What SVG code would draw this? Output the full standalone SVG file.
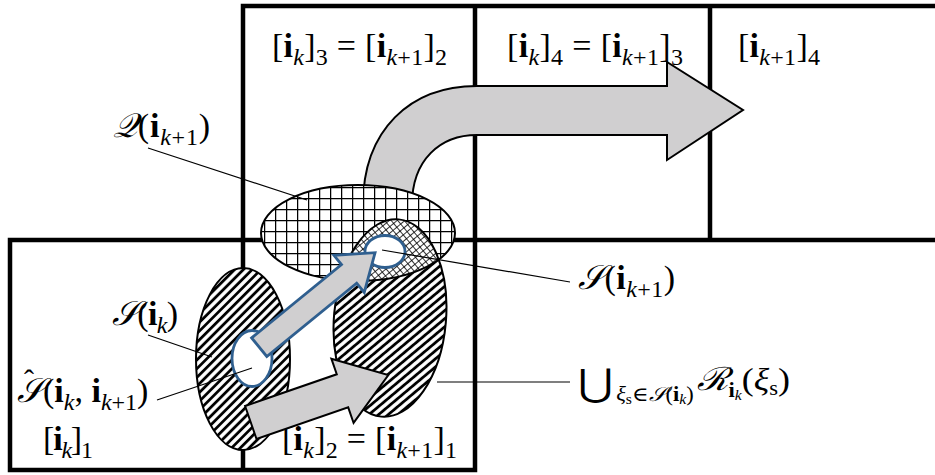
<svg xmlns="http://www.w3.org/2000/svg" width="935" height="475" viewBox="0 0 935 475">
<style>
.gl{stroke:#000;stroke-width:4.5;fill:none;stroke-linecap:square}
.ol{stroke:#000;stroke-width:2}
.gray{fill:#d0cfd0}
.blue{stroke:#2f5f8f;stroke-width:2.8}
.t{font-size:34px;fill:#000}
.b{font-weight:bold}
.i{font-style:italic}
.sb{font-size:24px}
.ss{font-size:14px}
.cal{font-style:italic}
.ld{stroke:#000;stroke-width:1.2;fill:none}
</style>
<defs>
<pattern id="diag" patternUnits="userSpaceOnUse" width="8" height="6.2" patternTransform="rotate(-45)">
<rect width="8" height="6.2" fill="#fff"/>
<line x1="0" y1="3.1" x2="8" y2="3.1" stroke="#000" stroke-width="2.8"/>
</pattern>
<pattern id="grid" patternUnits="userSpaceOnUse" width="11" height="11">
<rect width="11" height="11" fill="#fff"/>
<path d="M0 0.6H11M0.6 0V11" stroke="#000" stroke-width="1.3"/>
</pattern>
<pattern id="xh" patternUnits="userSpaceOnUse" width="5" height="5" patternTransform="rotate(45)">
<rect width="5" height="5" fill="#fff"/>
<path d="M0 0.5H5M0.5 0V5" stroke="#000" stroke-width="0.8"/>
</pattern>
<clipPath id="qclip"><ellipse cx="358" cy="233" rx="97" ry="48"/></clipPath>
</defs>
<rect width="935" height="475" fill="#fff"/>

<g id="grid-lines">
<path class="gl" d="M10 240H935M243 6H935M10 470H475M10 240V470M243 6V470M475 6V470M710 6V240"/>
</g>

<g id="cell-labels" font-family="'Liberation Serif', 'DejaVu Serif', serif">
<text class="t" x="272" y="57" textLength="175">[<tspan class="b">i</tspan><tspan class="i sb" dy="8">k</tspan><tspan dy="-8">]</tspan><tspan class="sb" dy="8">3</tspan><tspan dy="-8"> = [</tspan><tspan class="b">i</tspan><tspan class="i sb" dy="8">k</tspan><tspan class="sb">+1</tspan><tspan dy="-8">]</tspan><tspan class="sb" dy="8">2</tspan></text>
<text class="t" x="507" y="57" textLength="176">[<tspan class="b">i</tspan><tspan class="i sb" dy="8">k</tspan><tspan dy="-8">]</tspan><tspan class="sb" dy="8">4</tspan><tspan dy="-8"> = [</tspan><tspan class="b">i</tspan><tspan class="i sb" dy="8">k</tspan><tspan class="sb">+1</tspan><tspan dy="-8">]</tspan><tspan class="sb" dy="8">3</tspan></text>
<text class="t" x="738" y="57" textLength="82">[<tspan class="b">i</tspan><tspan class="i sb" dy="8">k</tspan><tspan class="sb">+1</tspan><tspan dy="-8">]</tspan><tspan class="sb" dy="8">4</tspan></text>
<text class="t" x="43" y="450" textLength="50">[<tspan class="b">i</tspan><tspan class="i sb" dy="8">k</tspan><tspan dy="-8">]</tspan><tspan class="sb" dy="8">1</tspan></text>
<text class="t" x="282" y="450" textLength="175">[<tspan class="b">i</tspan><tspan class="i sb" dy="8">k</tspan><tspan dy="-8">]</tspan><tspan class="sb" dy="8">2</tspan><tspan dy="-8"> = [</tspan><tspan class="b">i</tspan><tspan class="i sb" dy="8">k</tspan><tspan class="sb">+1</tspan><tspan dy="-8">]</tspan><tspan class="sb" dy="8">1</tspan></text>
</g>

<g id="transfer-arrow">
<path class="gray ol" stroke-width="2.5" d="M363 205C363 130 410 86 477 86H667V62L743 110L667 160V135H477C440 135 412 160 412 205Z"/>
</g>

<g id="Q-region">
<ellipse cx="358" cy="233" rx="97" ry="48" fill="url(#grid)"/>
</g>

<g id="R-union">
<ellipse cx="390" cy="318" rx="56" ry="99" transform="rotate(5 390 318)" fill="url(#diag)"/>
</g>

<g id="S-next">
<g clip-path="url(#qclip)">
<ellipse cx="390" cy="318" rx="56" ry="99" transform="rotate(5 390 318)" fill="url(#xh)"/>
</g>
<ellipse cx="358" cy="233" rx="97" ry="48" fill="none" class="ol"/>
<ellipse cx="390" cy="318" rx="56" ry="99" transform="rotate(5 390 318)" fill="none" class="ol"/>
</g>

<g id="S-k">
<ellipse cx="243" cy="359" rx="47" ry="91" fill="url(#diag)" class="ol"/>
</g>

<g id="S-hat">
<ellipse cx="252" cy="358.5" rx="20" ry="28" fill="#fff" class="blue"/>
</g>

<g id="S-next-inner">
<ellipse cx="385" cy="251.5" rx="20" ry="16" fill="#fff" class="blue"/>
</g>

<g id="arrows">
<path class="gray blue" stroke-width="2" transform="translate(259.2 347.2) rotate(-39.2)" d="M0 -12H116V-24L149.5 0L116 24V12H0Z"/>
<path class="gray ol" stroke-width="2" transform="translate(250.8 422.5) rotate(-19.06)" d="M0 -17.5H97V-34L145.5 0L97 34V17.5H0Z"/>
</g>

<g id="leaders">
<path class="ld" d="M148 148L307 200M382 250L570 282M148 335L212 357M157 400L252 368M437 382H570"/>
</g>

<g id="region-labels" font-family="'Liberation Serif', 'DejaVu Serif', serif">
<text class="t" x="113" y="137" textLength="97"><tspan class="cal">𝒬</tspan>(<tspan class="b">i</tspan><tspan class="i sb" dy="8">k</tspan><tspan class="sb">+1</tspan><tspan dy="-8">)</tspan></text>
<text class="t" x="578" y="289" textLength="97"><tspan class="cal">𝒮</tspan>(<tspan class="b">i</tspan><tspan class="i sb" dy="8">k</tspan><tspan class="sb">+1</tspan><tspan dy="-8">)</tspan></text>
<text class="t" x="112" y="325" textLength="66"><tspan class="cal">𝒮</tspan>(<tspan class="b">i</tspan><tspan class="i sb" dy="8">k</tspan><tspan dy="-8">)</tspan></text>
<text class="t" x="17" y="402"><tspan class="cal">𝒮</tspan><tspan font-size="30" dx="-19" dy="-12">ˆ</tspan><tspan dx="9" dy="12">(</tspan><tspan class="b">i</tspan><tspan class="i sb" dy="8">k</tspan><tspan dy="-8">, </tspan><tspan class="b">i</tspan><tspan class="i sb" dy="8">k</tspan><tspan class="sb">+1</tspan><tspan dy="-8">)</tspan></text>
<text x="578" y="390" font-size="32" textLength="212" lengthAdjust="spacingAndGlyphs"><tspan font-family="'DejaVu Serif', serif" font-size="38" dy="6">⋃</tspan><tspan font-size="20" class="i" dx="3" dy="5">ξ</tspan><tspan class="ss" dy="3">s</tspan><tspan font-size="20" dy="-3">∈</tspan><tspan font-size="20" class="cal">𝒮</tspan><tspan font-size="20">(</tspan><tspan font-size="20" class="b">i</tspan><tspan class="ss i" dy="3">k</tspan><tspan font-size="20" dy="-3">)</tspan><tspan class="cal" dx="3" dy="-11">ℛ</tspan><tspan font-size="20" class="b" dy="7">i</tspan><tspan class="ss i" dy="3">k</tspan><tspan dy="-10">(</tspan><tspan class="i">ξ</tspan><tspan font-size="20" dy="5">s</tspan><tspan dy="-5">)</tspan></text>
</g>
</svg>
